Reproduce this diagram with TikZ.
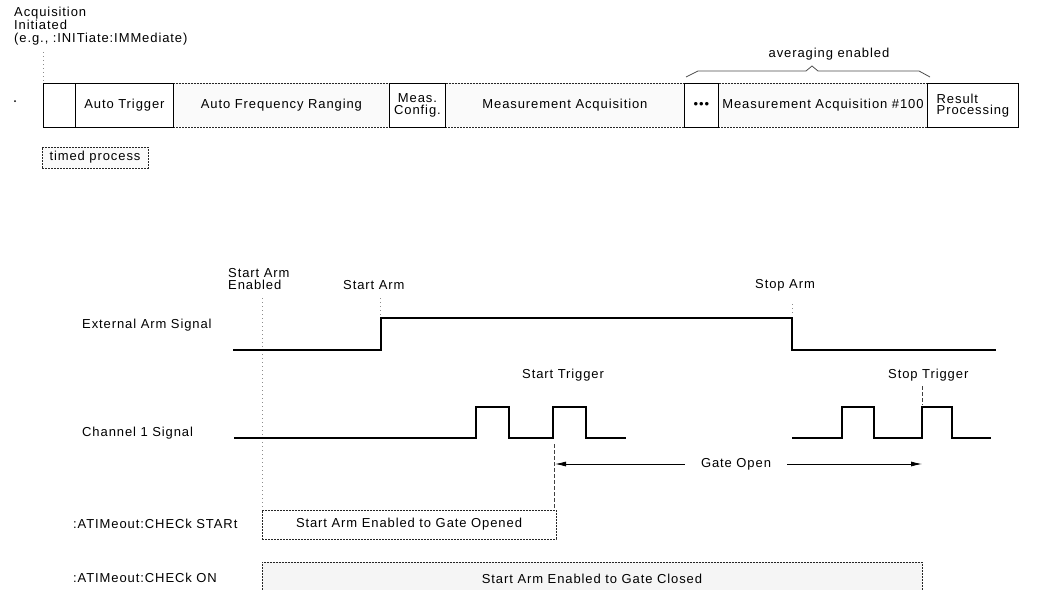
\documentclass[tikz,border=0pt]{standalone}
\usepackage{fontspec}
\setmainfont{Liberation Sans}[LetterSpace=7]
\usetikzlibrary{arrows.meta}
\begin{document}
\begin{tikzpicture}[x=1pt,y=-1pt,
  lbl/.style={inner sep=0pt, anchor=base west, font=\fontsize{13}{13}\selectfont},
  mlbl/.style={inner sep=0pt, anchor=north west, align=left, font=\fontsize{13}{13}\selectfont},
  cell/.style={draw, line width=0.9pt, minimum height=44pt, inner sep=1pt, anchor=north west, font=\fontsize{13}{11.5}\selectfont, align=center},
  timedcell/.style={cell, fill=black!2, draw=black!85, dash pattern=on 2pt off 1pt},
  gatebox/.style={draw=black!85, line width=0.9pt, dash pattern=on 2pt off 1pt, inner sep=0pt, font=\fontsize{13}{13}\selectfont},
  sig/.style={line width=1.7pt, line join=miter},
  guide/.style={black!45, line width=0.6pt, dash pattern=on 1pt off 3pt},
  tickline/.style={black!75, line width=0.7pt, dash pattern=on 4pt off 2pt},
  gatearrow/.style={line width=0.8pt, -{Latex[length=11pt,width=5pt]}}
]
\useasboundingbox (0,0) rectangle (1041,589);

% header text
\node[mlbl] (acq) at (14,7.2) {Acquisition\\Initiated\\(e.g., :INITiate:IMMediate)};
\fill[black] (15,101) circle (1pt);
\draw[guide] (43,52) -- (43,81);

% sequence bar
\node[timedcell, minimum width=216pt] (afr) at (173,83) {Auto Frequency Ranging};
\node[timedcell, minimum width=239pt] (ma) at (445,83) {Measurement Acquisition};
\node[timedcell, minimum width=209pt, inner xsep=0pt] (ma100) at (718,83) {Measurement Acquisition \#100};
\node[cell, minimum width=32pt] (c0) at (43,83) {};
\node[cell, minimum width=98pt] (at) at (75,83) {Auto Trigger};
\node[cell, minimum width=56pt] (mc) at (389,83) {Meas.\\Config.};
\node[cell, minimum width=34pt, font=\fontsize{13}{13}\selectfont] (dots) at (684,83) {•••};
\node[cell, minimum width=91pt, align=left] (rp) at (927,83) {Result\\Processing};

% averaging brace
\node[inner sep=0pt, font=\fontsize{13}{13}\selectfont] (avg) at (829,54) {averaging enabled};
\draw[black!70, line width=0.8pt] (686,77) -- (698,71) -- (806,71) -- (812,66) -- (818,71) -- (919,71) -- (930,77);

% legend
\node[gatebox, fill=black!2, minimum width=106pt, minimum height=21pt] (legend) at (95,157.5) {timed process};

% timing labels
\node[mlbl, font=\fontsize{13}{12.5}\selectfont] (sae) at (228,267.8) {Start Arm\\Enabled};
\node[lbl] (sa) at (343,289) {Start Arm};
\node[lbl] (stoparm) at (755,288) {Stop Arm};
\node[lbl] (extlbl) at (82,328) {External Arm Signal};
\node[lbl] (chlbl) at (82,436) {Channel 1 Signal};
\node[lbl] (sttrig) at (522,378) {Start Trigger};
\node[lbl] (sptrig) at (888,378) {Stop Trigger};

% guide lines
\draw[guide] (262,298) -- (262,509);
\draw[guide] (380,298) -- (380,316);
\draw[guide] (792,304) -- (792,316);
\draw[tickline] (554,444) -- (554,509);
\draw[tickline] (922,386) -- (922,405);

% signals
\draw[sig] (233,350) -- (381,350) -- (381,318) -- (792,318) -- (792,350) -- (996,350);
\draw[sig] (234,438) -- (476,438) -- (476,407) -- (509,407) -- (509,438) -- (553,438) -- (553,407) -- (586,407) -- (586,438) -- (626,438);
\draw[sig] (792,438) -- (842,438) -- (842,407) -- (874,407) -- (874,438) -- (922,438) -- (922,407) -- (952,407) -- (952,438) -- (991,438);

% gate open
\node[inner ysep=0pt, inner xsep=16pt, font=\fontsize{13}{13}\selectfont] (gate) at (736,464) {Gate Open};
\coordinate (gl) at (555,464);
\coordinate (gr) at (922,464);
\draw[gatearrow] (gate.west) -- (gl);
\draw[gatearrow] (gate.east) -- (gr);

% timeout rows
\node[lbl] (chkstart) at (73,528) {:ATIMeout:CHECk STARt};
\node[lbl] (chkon) at (73,582) {:ATIMeout:CHECk ON};
\node[gatebox, minimum width=294pt, minimum height=29pt] (box1) at (409,524.5) {Start Arm Enabled to Gate Opened};
\node[gatebox, fill=black!4, minimum width=660pt, minimum height=34pt] (box2) at (592,579) {Start Arm Enabled to Gate Closed};
\end{tikzpicture}
\end{document}
